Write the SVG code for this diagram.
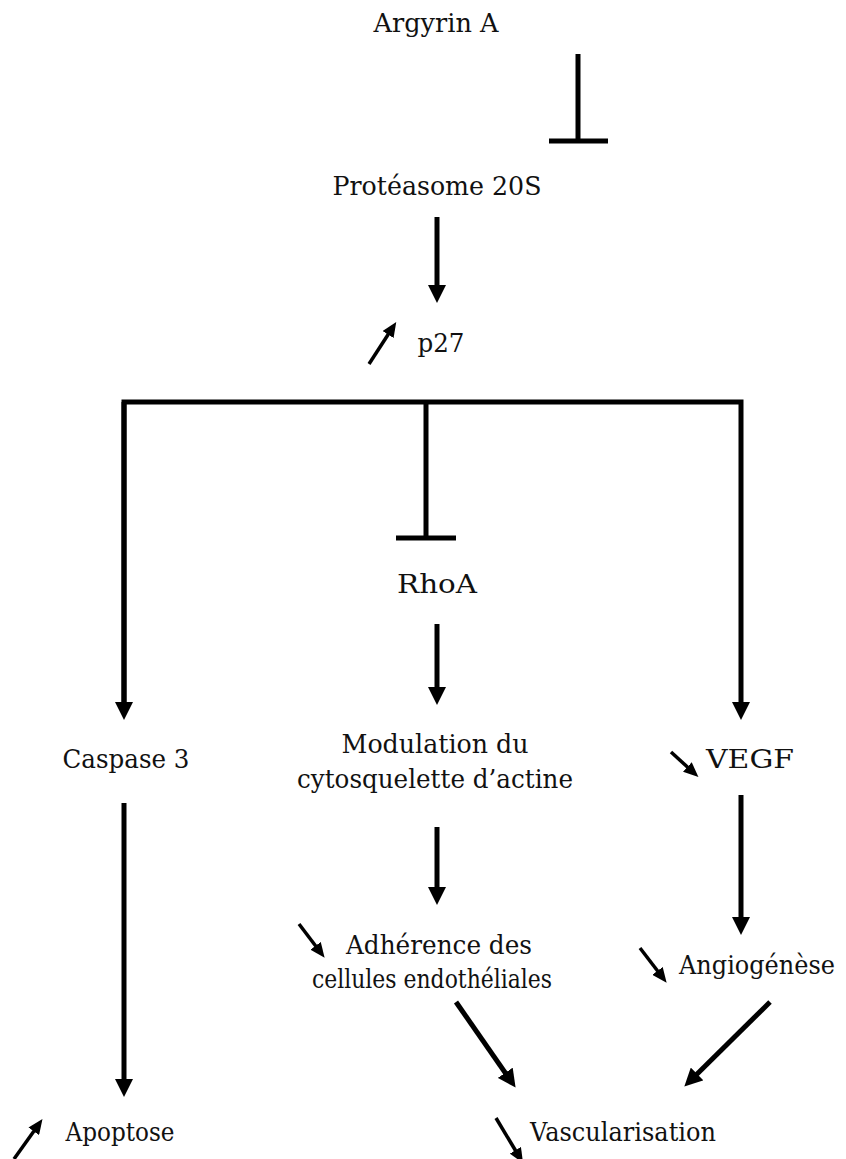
<svg xmlns="http://www.w3.org/2000/svg" width="846" height="1159" viewBox="0 0 846 1159">
<defs>
<style>
text{font-family:"DejaVu Serif","Liberation Serif",serif;font-size:26px;fill:#111;}
.c{stroke:#000;stroke-width:5;fill:none;stroke-linecap:butt;}
.s{stroke:#000;stroke-width:3.5;fill:none;}
</style>
<marker id="ah" viewBox="0 0 18 18" refX="10" refY="9" markerWidth="18" markerHeight="18" markerUnits="userSpaceOnUse" orient="auto"><path d="M0,0 L18,9 L0,18 z" fill="#000"/></marker>
<marker id="sh" viewBox="0 0 15 13" refX="9" refY="6.5" markerWidth="15" markerHeight="13" markerUnits="userSpaceOnUse" orient="auto"><path d="M0,0 L15,6.5 L0,13 z" fill="#000"/></marker>
</defs>
<rect width="846" height="1159" fill="#fff"/>
<g id="argyrin"><text x="436" y="32" text-anchor="middle" textLength="125" lengthAdjust="spacingAndGlyphs">Argyrin A</text></g>
<g id="proteasome"><text x="437" y="195" text-anchor="middle" textLength="209" lengthAdjust="spacingAndGlyphs">Protéasome 20S</text></g>
<g id="p27"><text x="441" y="352" text-anchor="middle" textLength="47" lengthAdjust="spacingAndGlyphs">p27</text></g>
<g id="rhoa"><text x="437" y="593" text-anchor="middle" textLength="80" lengthAdjust="spacingAndGlyphs">RhoA</text></g>
<g id="caspase"><text x="126" y="768" text-anchor="middle" textLength="127" lengthAdjust="spacingAndGlyphs">Caspase 3</text></g>
<g id="modulation"><text x="435" y="753" text-anchor="middle" textLength="187" lengthAdjust="spacingAndGlyphs">Modulation du</text><text x="435" y="788" text-anchor="middle" textLength="276" lengthAdjust="spacingAndGlyphs">cytosquelette d’actine</text></g>
<g id="vegf"><text x="750" y="768" text-anchor="middle" textLength="88" lengthAdjust="spacingAndGlyphs">VEGF</text></g>
<g id="adherence"><text x="439" y="954" text-anchor="middle" textLength="186" lengthAdjust="spacingAndGlyphs">Adhérence  des</text><text x="432" y="988" text-anchor="middle" textLength="240" lengthAdjust="spacingAndGlyphs">cellules endothéliales</text></g>
<g id="angiogenese"><text x="757" y="974" text-anchor="middle" textLength="156" lengthAdjust="spacingAndGlyphs">Angiogénèse</text></g>
<g id="apoptose"><text x="120" y="1141" text-anchor="middle" textLength="109" lengthAdjust="spacingAndGlyphs">Apoptose</text></g>
<g id="vascularisation"><text x="623" y="1141" text-anchor="middle" textLength="186" lengthAdjust="spacingAndGlyphs">Vascularisation</text></g>
<g id="connectors">
<line class="c" x1="578" y1="54" x2="578" y2="141" stroke-width="5"/>
<line class="c" x1="549" y1="141" x2="608" y2="141" stroke-width="6"/>
<line class="c" x1="437" y1="217" x2="437" y2="295" marker-end="url(#ah)"/>
<line class="s" x1="369" y1="364" x2="393" y2="327" marker-end="url(#sh)"/>
<polyline class="c" points="124,712 124,402 741,402 741,712" marker-end="url(#ah)"/>
<line class="c" x1="124" y1="402" x2="124" y2="712" marker-end="url(#ah)"/>
<line class="c" x1="426" y1="402" x2="426" y2="537" stroke-width="4"/>
<line class="c" x1="396" y1="538" x2="456" y2="538" stroke-width="6"/>
<line class="c" x1="437" y1="624" x2="437" y2="697" marker-end="url(#ah)"/>
<line class="s" x1="671" y1="752" x2="694" y2="773" marker-end="url(#sh)"/>
<line class="c" x1="124" y1="803" x2="124" y2="1089" marker-end="url(#ah)"/>
<line class="c" x1="437" y1="827" x2="437" y2="897" marker-end="url(#ah)"/>
<line class="c" x1="741" y1="795" x2="741" y2="927" marker-end="url(#ah)"/>
<line class="s" x1="299" y1="924" x2="321" y2="953" marker-end="url(#sh)"/>
<line class="s" x1="640" y1="948" x2="663" y2="978" marker-end="url(#sh)"/>
<line class="c" x1="456" y1="1002" x2="511" y2="1081" marker-end="url(#ah)"/>
<line class="c" x1="770" y1="1002" x2="690" y2="1081" marker-end="url(#ah)"/>
<line class="s" x1="14" y1="1159" x2="39" y2="1124" marker-end="url(#sh)"/>
<line class="s" x1="496" y1="1118" x2="520" y2="1158" marker-end="url(#sh)"/>
</g>
</svg>
